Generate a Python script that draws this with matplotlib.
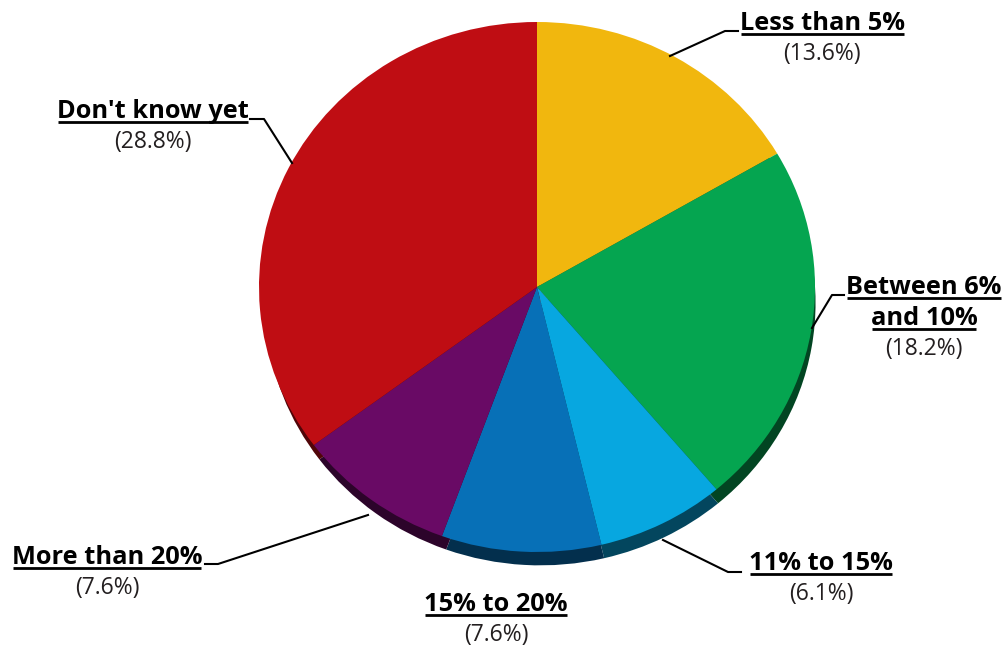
# Pie chart with leader-line labels, drawn on a 1005x648 canvas
import matplotlib
matplotlib.use("Agg")
import matplotlib.pyplot as plt
import matplotlib.colors as mcolors
import numpy as np

categories = ["Less than 5%", "Between 6%\nand 10%", "11% to 15%",
              "15% to 20%", "More than 20%", "Don't know yet"]
shares = [13.6, 18.2, 6.1, 7.6, 7.6, 28.8]
colors = ["#F1B70E", "#05A550", "#07A7E0", "#0770B7", "#690A65", "#BF0D13"]

W, H = 1005, 648
fig = plt.figure(figsize=(W / 100, H / 100), dpi=100)
fig.patch.set_facecolor("white")

# pie geometry in image pixels (ellipse: slightly squashed vertically)
cx, cy, rx, ry = 537, 287, 278, 265
depth = 16 / ry
xpad, ytop, ybot = 1.03, 1.02, 1.02 + depth
left = (cx - rx * xpad) / W
bottom = 1 - (cy + ry * ybot) / H
ax_pie = fig.add_axes([left, bottom, 2 * rx * xpad / W, ry * (ytop + ybot) / H])

# darker copy shifted down (and a touch right) acts as the 3D rim
dark = [tuple(np.array(mcolors.to_rgb(c)) * 0.42) for c in colors]
ax_pie.pie(shares, colors=dark, startangle=90, counterclock=False,
           radius=0.99, center=(0.012, -depth), wedgeprops=dict(linewidth=0))
ax_pie.pie(shares, colors=colors, startangle=90, counterclock=False,
           radius=1, center=(0, 0), wedgeprops=dict(linewidth=0))
ax_pie.set_aspect("auto")
ax_pie.set_xlim(-xpad, xpad)
ax_pie.set_ylim(-ybot, ytop)
ax_pie.axis("off")

# overlay in pixel coordinates for labels and leader lines
ov = fig.add_axes([0, 0, 1, 1], facecolor="none")
ov.set_xlim(0, W)
ov.set_ylim(H, 0)
ov.axis("off")

font = ["Open Sans", "DejaVu Sans"]
# (centre x, baseline y of first line)
label_pos = [(822, 30), (924, 294), (821, 570), (496, 611), (107, 564), (153, 118)]
leaders = [
    [(670, 56), (725, 31), (738, 31)],
    [(812, 328), (832, 295), (844, 295)],
    [(663, 540), (728, 572), (741, 572)],
    None,
    [(368, 515), (218, 564), (205, 564)],
    [(292, 163), (264, 119), (250, 119)],
]

titles = []
for name, share, (x, y), lead in zip(categories, shares, label_pos, leaders):
    lines = name.split("\n")
    for i, line in enumerate(lines):
        t = ov.text(x, y + 31 * i, line, ha="center", va="baseline", fontsize=18.3,
                    fontweight="bold", family=font, color="black")
        titles.append(t)
    ov.text(x, y + 31 * (len(lines) - 1) + 30, f"({share}%)", ha="center",
            va="baseline", fontsize=16.5, family=font, color="#231F20")
    if lead:
        xs, ys = zip(*lead)
        ov.plot(xs, ys, color="black", linewidth=1.5)

# underline every bold label line, just below the baseline
fig.canvas.draw()
renderer = fig.canvas.get_renderer()
for t in titles:
    bb = t.get_window_extent(renderer)
    x, y = t.get_position()
    ov.plot([bb.x0 + 1, bb.x1 - 1], [y + 4, y + 4], color="black", linewidth=2,
            solid_capstyle="butt")

fig.savefig("out.png", dpi=100, facecolor="white")
